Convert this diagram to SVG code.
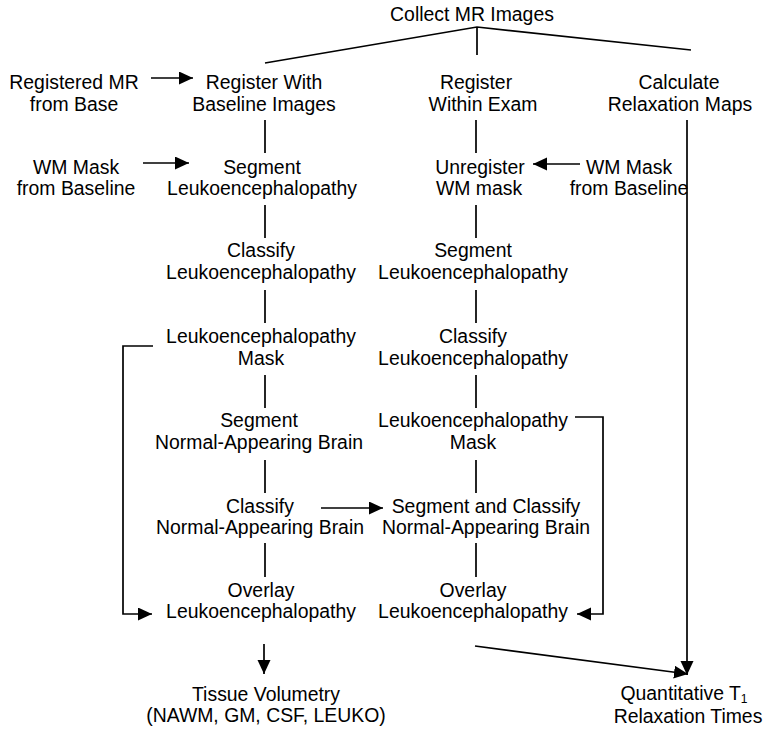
<svg xmlns="http://www.w3.org/2000/svg" width="767" height="731" viewBox="0 0 767 731">
<defs>
<style>
text{font-family:"Liberation Sans",Arial,sans-serif;font-size:19.4px;fill:#000;text-anchor:middle}
.c{stroke:#000;stroke-width:1.7;fill:none}
.a{marker-end:url(#ah)}
</style>
<marker id="ah" markerUnits="userSpaceOnUse" markerWidth="16" markerHeight="14" refX="14" refY="6.5" orient="auto">
<path d="M0,0 L14,6.5 L0,13 z" fill="#000"/>
</marker>
</defs>
<rect width="767" height="731" fill="#fff"/>
<g id="connectors">
<path class="c" d="M265,63 L477,27 L691,50 M477,27 L477,55"/>
<path class="c a" d="M151,78 L193,78"/>
<path class="c a" d="M143,163 L189,163"/>
<path class="c a" d="M580,164 L533,164"/>
<path class="c a" d="M321,508 L383,508"/>
<path class="c" d="M265,120 V153 M265,205 V238 M265,290 V323 M265,375 V408 M265,460 V493 M265,543 V577"/>
<path class="c" d="M476,120 V153 M476,205 V238 M476,290 V323 M476,375 V408 M476,460 V493 M476,543 V577"/>
<path class="c a" d="M153,346 H123 V614 H152"/>
<path class="c a" d="M575,417 H603 V614 H577"/>
<path class="c a" d="M687,120 V675"/>
<path class="c a" d="M475,646 L688,674"/>
<path class="c a" d="M264,644 V674"/>
</g>
<g id="collect"><text x="472" y="21">Collect MR Images</text></g>
<g id="registered-mr"><text x="74" y="89">Registered MR</text><text x="74" y="111">from Base</text></g>
<g id="register-baseline"><text x="264" y="89">Register With</text><text x="264" y="111">Baseline Images</text></g>
<g id="register-within"><text x="476" y="89">Register</text><text x="483" y="111">Within Exam</text></g>
<g id="calc-relax"><text x="679" y="89">Calculate</text><text x="680" y="111">Relaxation Maps</text></g>
<g id="wm-mask-left"><text x="76" y="174">WM Mask</text><text x="76" y="195">from Baseline</text></g>
<g id="segment-leuko-left"><text x="262" y="174">Segment</text><text x="262" y="195">Leukoencephalopathy</text></g>
<g id="unregister"><text x="480" y="174">Unregister</text><text x="479" y="195">WM mask</text></g>
<g id="wm-mask-right"><text x="629" y="174">WM Mask</text><text x="629" y="195">from Baseline</text></g>
<g id="classify-leuko-left"><text x="261" y="257">Classify</text><text x="261" y="279">Leukoencephalopathy</text></g>
<g id="segment-leuko-mid"><text x="473" y="257">Segment</text><text x="473" y="279">Leukoencephalopathy</text></g>
<g id="mask-left"><text x="261" y="343">Leukoencephalopathy</text><text x="261" y="365">Mask</text></g>
<g id="classify-leuko-mid"><text x="473" y="343">Classify</text><text x="473" y="365">Leukoencephalopathy</text></g>
<g id="segment-nab"><text x="259" y="427">Segment</text><text x="259" y="449">Normal-Appearing Brain</text></g>
<g id="mask-mid"><text x="473" y="427">Leukoencephalopathy</text><text x="473" y="449">Mask</text></g>
<g id="classify-nab"><text x="260" y="513">Classify</text><text x="260" y="534">Normal-Appearing Brain</text></g>
<g id="segclass-nab"><text x="486" y="513">Segment and Classify</text><text x="486" y="534">Normal-Appearing Brain</text></g>
<g id="overlay-left"><text x="261" y="597">Overlay</text><text x="261" y="618">Leukoencephalopathy</text></g>
<g id="overlay-mid"><text x="473" y="597">Overlay</text><text x="473" y="618">Leukoencephalopathy</text></g>
<g id="tissue-volumetry"><text x="266" y="701">Tissue Volumetry</text><text x="266" y="722">(NAWM, GM, CSF, LEUKO)</text></g>
<g id="quant-t1"><text x="684" y="700">Quantitative T<tspan font-size="12" dy="2.5">1</tspan></text><text x="688" y="723">Relaxation Times</text></g>
</svg>
